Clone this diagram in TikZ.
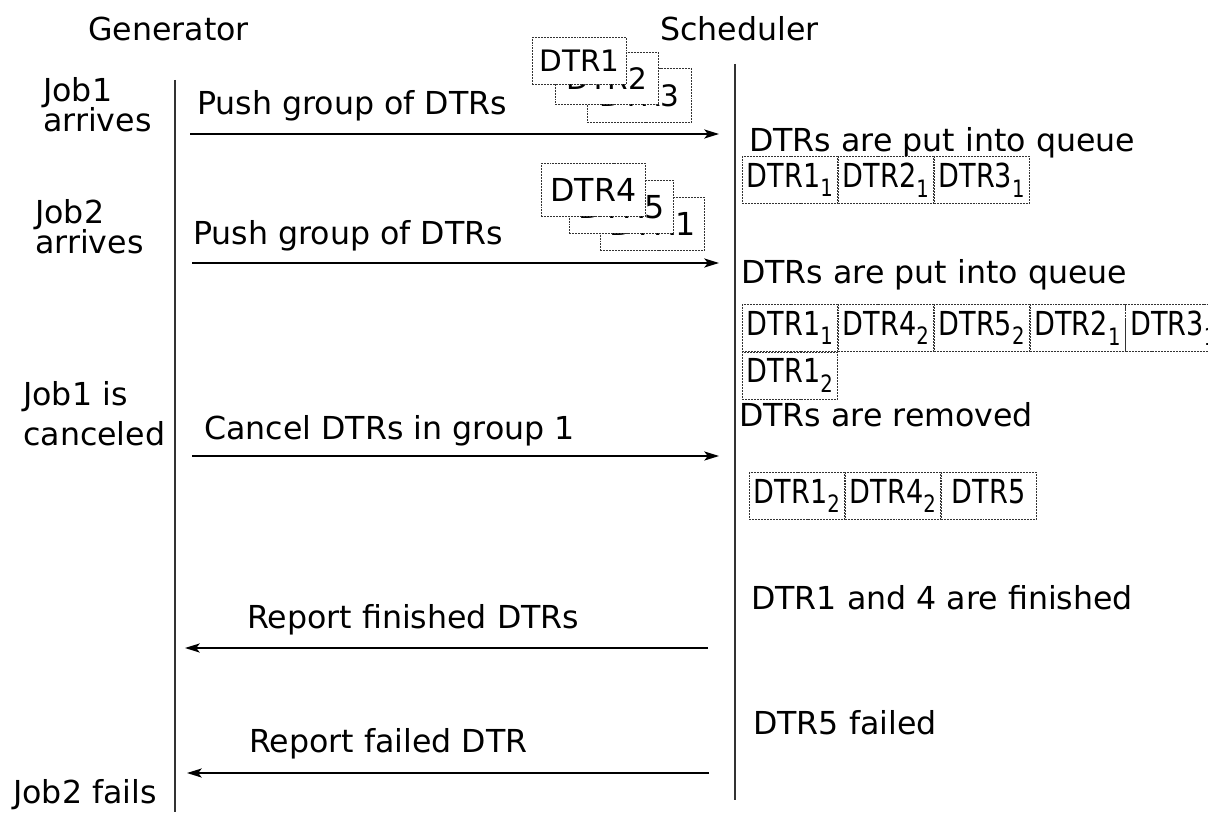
\documentclass[tikz,border=0pt]{standalone}
\usepackage{fontspec}
\setmainfont{DejaVu Sans}
\newfontfamily\boxfont[FakeStretch=0.82]{DejaVu Sans}
\usetikzlibrary{positioning,arrows.meta}

\newcommand{\qsub}[1]{\raisebox{-0.3em}{\fontsize{17}{17}\selectfont #1}}

\tikzset{
  txt/.style={anchor=base west, inner sep=0pt, font=\fontsize{22.5}{27}\selectfont},
  lifeline/.style={line width=0.8pt, black!80},
  msg/.style={line width=0.9pt, -{Stealth[length=10.5pt,width=6.5pt,inset=2.5pt]}},
  dtrbox/.style={draw=black!80, fill=white, line width=0.6pt,
    dash pattern=on 1.4pt off 0.7pt, inner sep=0pt, anchor=north west},
  grpa/.style={dtrbox, font=\fontsize{21}{21}\selectfont},
  grpb/.style={dtrbox, minimum width=2.6cm, minimum height=1.325cm, font=\fontsize{22.5}{22.5}\selectfont},
  queue/.style={dtrbox, minimum width=2.375cm, minimum height=1.175cm, font=\boxfont\fontsize{23.5}{23.5}\selectfont}
}

\begin{document}
\begin{tikzpicture}[x=0.025cm,y=-0.025cm]
  \clip (0,0) rectangle (1208,814);

  % headers and lifelines
  \node[txt] (gen) at (88,41) {Generator};
  \node[txt] (sch) at (660,41) {Scheduler};
  \coordinate (gtop) at (175,80);
  \coordinate (gbot) at (175,812);
  \coordinate (stop) at (735,64);
  \coordinate (sbot) at (735,800);
  \draw[lifeline] (gtop) -- (gbot);
  \draw[lifeline] (stop) -- (sbot);

  % events at the generator
  \node[txt] (j1a) at (43,102) {Job1};
  \node[txt] (j1b) at (43,132) {arrives};
  \node[txt] (j2a) at (35,223) {Job2};
  \node[txt] (j2b) at (35,253) {arrives};
  \node[txt] (j3a) at (23,405) {Job1 is};
  \node[txt] (j3b) at (23,445) {canceled};
  \node[txt] (j4) at (13,803) {Job2 fails};

  % messages
  \coordinate (m1s) at (190,134);  \coordinate (m1e) at (719,134);
  \coordinate (m2s) at (192,263);  \coordinate (m2e) at (719,263);
  \coordinate (m3s) at (192,456);  \coordinate (m3e) at (719,456);
  \coordinate (m4s) at (708,648);  \coordinate (m4e) at (185,648);
  \coordinate (m5s) at (709,773);  \coordinate (m5e) at (187,773);
  \begin{scope}[msg]
    \draw (m1s) to (m1e);
    \draw (m2s) to (m2e);
    \draw (m3s) to (m3e);
    \draw (m4s) to (m4e);
    \draw (m5s) to (m5e);
  \end{scope}
  \node[txt] (l1) at (197,115) {Push group of DTRs};
  \node[txt] (l2) at (193,244) {Push group of DTRs};
  \node[txt] (l3) at (204,439) {Cancel DTRs in group 1};
  \node[txt] (l4) at (247,628) {Report finished DTRs};
  \node[txt] (l5) at (249,752) {Report failed DTR};

  % groups of DTRs pushed
  \node[grpa, minimum width=2.6cm, minimum height=1.35cm] (g13) at (587,68) {DTR3};
  \node[grpa, minimum width=2.575cm, minimum height=1.3cm] (g12) at (555,52) {DTR2};
  \node[grpa, minimum width=2.35cm, minimum height=1.175cm] (g11) at (532,37) {DTR1};
  \node[grpb] (g21) at (600,197) {DTR1};
  \node[grpb] (g25) at (569,180) {DTR5};
  \node[grpb] (g24) at (541,163) {DTR4};

  % scheduler side
  \node[txt] (r1) at (749,151) {DTRs are put into queue};
  \node[txt] (r2) at (741,283) {DTRs are put into queue};
  \node[txt] (r3) at (739,426) {DTRs are removed};
  \node[txt] (r4) at (751,609) {DTR1 and 4 are finished};
  \node[txt] (r5) at (753,734) {DTR5 failed};

  % queues
  \node[queue] (qa1) at (742,156) {DTR1\qsub{1}};
  \node[queue, right=0pt of qa1] (qa2) {DTR2\qsub{1}};
  \node[queue, right=0pt of qa2] (qa3) {DTR3\qsub{1}};

  \node[queue] (qb1) at (742,304) {DTR1\qsub{1}};
  \node[queue, right=0pt of qb1] (qb2) {DTR4\qsub{2}};
  \node[queue, right=0pt of qb2] (qb3) {DTR5\qsub{2}};
  \node[queue, right=0pt of qb3] (qb4) {DTR2\qsub{1}};
  \node[queue, right=0pt of qb4] (qb5) {DTR3\qsub{1}};
  \node[queue, below=0pt of qb1] (qb6) {DTR1\qsub{2}};

  \node[queue] (qc1) at (749,472) {DTR1\qsub{2}};
  \node[queue, right=0pt of qc1] (qc2) {DTR4\qsub{2}};
  \node[queue, right=0pt of qc2] (qc3) {DTR5\vphantom{\qsub{2}}};
\end{tikzpicture}
\end{document}
